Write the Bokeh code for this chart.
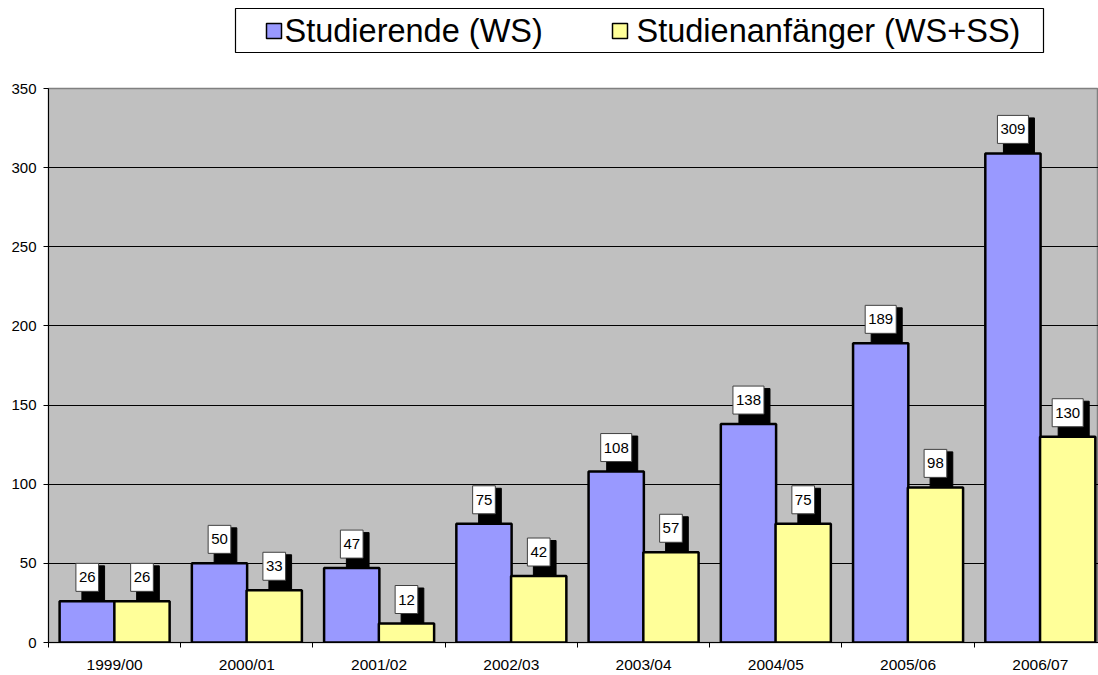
import numpy as np
from bokeh.plotting import figure
from bokeh.models import Range1d, FixedTicker, ColumnDataSource
from bokeh.layouts import column
from bokeh.core.properties import value
from bokeh.embed import file_html
from bokeh.resources import INLINE

# ---------------- data ----------------
categories = ["1999/00", "2000/01", "2001/02", "2002/03",
              "2003/04", "2004/05", "2005/06", "2006/07"]
studierende = [26, 50, 47, 75, 108, 138, 189, 309]
anfaenger = [26, 33, 12, 42, 57, 75, 98, 130]
series = ["Studierende (WS)", "Studienanfänger (WS+SS)"]
colors = ["#9999FF", "#FFFF99"]
y_ticks = [0, 50, 100, 150, 200, 250, 300, 350]

FONT = value("Liberation Sans")
W = 1098
LEFT = 48

# ---------------- legend strip (coordinates = page pixels) ----------------
LH = 66
leg = figure(width=W, height=LH, x_range=Range1d(LEFT, W), y_range=Range1d(LH, 0),
             output_backend="svg", toolbar_location=None,
             x_axis_location=None, y_axis_location=None,
             min_border_left=LEFT, min_border_right=0, min_border_top=0, min_border_bottom=0)
leg.grid.visible = False
leg.outline_line_color = None
leg.background_fill_color = "white"
leg.quad(left=[235], right=[1043], top=[8], bottom=[52],
         fill_color="white", line_color="black", line_width=1.2)
key_x = [266, 612]
text_x = [284, 636]
leg.quad(left=key_x, right=[k + 15 for k in key_x], top=[23] * 2, bottom=[38] * 2,
         fill_color=colors, line_color="black", line_width=1.5)
leg.text(x=text_x, y=[30.5, 30.5], text=series, text_font=FONT, text_font_size="32.5px",
         text_baseline="middle", text_align="left", text_color="black")

# ---------------- main chart ----------------
n = len(categories)
p = figure(width=W, height=609, x_range=Range1d(0, 7.94), y_range=Range1d(0, 350),
           output_backend="svg", toolbar_location=None,
           min_border_left=LEFT, min_border_right=0, min_border_top=22, min_border_bottom=30,
           background_fill_color="#C0C0C0", border_fill_color="white")
p.outline_line_color = "#808080"
p.outline_line_width = 1.5
p.xgrid.visible = False
p.ygrid.ticker = FixedTicker(ticks=y_ticks)
p.ygrid.grid_line_color = "black"
p.ygrid.grid_line_width = 1

p.yaxis.ticker = FixedTicker(ticks=y_ticks)
p.yaxis.major_tick_out = 5
p.yaxis.major_tick_in = 0
p.yaxis.minor_tick_out = 0
p.yaxis.minor_tick_in = 0
p.yaxis.major_label_standoff = 7
p.yaxis.axis_line_color = "black"
p.yaxis.major_tick_line_color = "black"
p.yaxis.major_label_text_font = "Liberation Sans"
p.yaxis.major_label_text_font_size = "15px"
p.yaxis.major_label_text_color = "black"

centers = [i + 0.5 for i in range(n)]
p.xaxis.ticker = FixedTicker(ticks=centers, minor_ticks=list(range(n + 1)))
p.xaxis.major_label_overrides = {c: lab for c, lab in zip(centers, categories)}
p.xaxis.major_tick_out = 0
p.xaxis.major_tick_in = 0
p.xaxis.minor_tick_out = 5
p.xaxis.minor_tick_in = 0
p.xaxis.minor_tick_line_color = "black"
p.xaxis.axis_line_color = "black"
p.xaxis.major_label_standoff = 8
p.xaxis.major_label_text_font = "Liberation Sans"
p.xaxis.major_label_text_font_size = "15.5px"
p.xaxis.major_label_text_color = "black"

bw = 0.418
off = 0.207
idx = np.arange(n)
pad = dict(left=3, right=3, top=9, bottom=9)
for vals, col, sgn in [(studierende, colors[0], -1), (anfaenger, colors[1], 1)]:
    xs = idx + 0.5 + sgn * off
    src = ColumnDataSource(dict(x=xs, top=vals,
                                t=[str(v) for v in vals],
                                s=["\u2007" * len(str(v)) for v in vals]))
    p.vbar(x="x", top="top", width=bw, bottom=0, source=src,
           fill_color=col, line_color="black", line_width=2.5)
    # shadow
    p.text(x="x", y="top", text="s", source=src, x_offset=6, y_offset=-18,
           text_align="center", text_baseline="middle", text_font=FONT,
           text_font_size="15px", text_color="black",
           background_fill_color="black", border_line_color="black",
           padding=pad)
    # label box
    p.text(x="x", y="top", text="t", source=src, x_offset=0, y_offset=-24,
           text_align="center", text_baseline="middle", text_font=FONT,
           text_font_size="15px", text_color="black",
           background_fill_color="white", border_line_color="#404040",
           border_line_width=1, padding=pad)

layout = column(leg, p)
open("out.html", "w").write(file_html(layout, INLINE))
